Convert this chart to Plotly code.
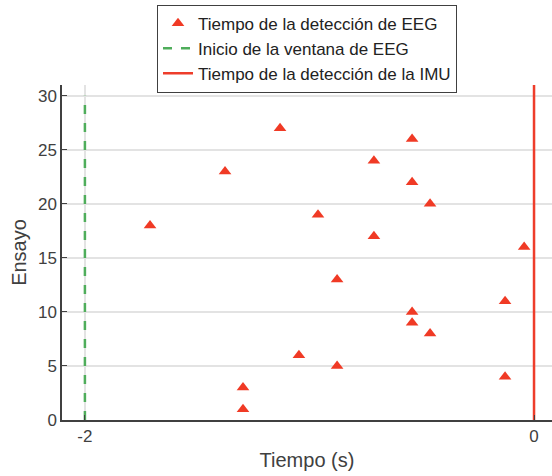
import plotly.graph_objects as go

# Data
tiempo_eeg = [-1.71, -1.376, -1.131, -0.962, -0.713, -0.713, -0.877, -0.543, -0.543, -0.463,
              -0.044, -0.129, -0.543, -0.543, -0.463, -1.047, -0.877, -0.129, -1.296, -1.296]
ensayo = [18, 23, 27, 19, 24, 17, 13, 26, 22, 20,
          16, 11, 10, 9, 8, 6, 5, 4, 3, 1]
inicio_ventana = -2
inicio_y = [0, 30]
deteccion_imu = 0
imu_y = [0, 31]
x_ticks = [-2, 0]
y_ticks = [0, 5, 10, 15, 20, 25, 30]

FONT = "Liberation Sans, Arial, sans-serif"
TXT = "#404040"

fig = go.Figure()
fig.add_trace(go.Scatter(
    x=tiempo_eeg, y=ensayo, mode="markers",
    marker=dict(symbol="triangle-up", size=11, color="#f03a25"),
    name="Tiempo de la detección de EEG"))
fig.add_trace(go.Scatter(
    x=[inicio_ventana] * len(inicio_y), y=inicio_y, mode="lines",
    line=dict(color="#4fad5b", width=2.5, dash="dash"),
    name="Inicio de la ventana de EEG"))
fig.add_trace(go.Scatter(
    x=[deteccion_imu] * len(imu_y), y=imu_y, mode="lines",
    line=dict(color="#ee3d2b", width=2.5),
    name="Tiempo de la detección de la IMU"))

fig.update_layout(
    width=552, height=476,
    margin=dict(l=62, r=0, t=85, b=56),
    paper_bgcolor="white", plot_bgcolor="white",
    font=dict(family=FONT, size=17, color=TXT),
    legend=dict(x=0.5, xanchor="center", y=1.24, yanchor="top",
                bordercolor="#404040", borderwidth=1, bgcolor="white",
                font=dict(size=17, color="#222222"), tracegroupgap=0,
                itemwidth=30),
    xaxis=dict(range=[-2.102, 0.08], tickvals=x_ticks, ticktext=["-2", "0"],
               showgrid=True, gridcolor="#e3e3e3", gridwidth=1.5, zeroline=False,
               showline=True, linecolor="#404040", linewidth=1.5,
               ticks="inside", ticklen=5, tickcolor="#404040",
               title=dict(text="Tiempo (s)", font=dict(size=20, color=TXT), standoff=8)),
    yaxis=dict(range=[0, 31], tickvals=y_ticks,
               showgrid=True, gridcolor="#e3e3e3", gridwidth=1.5, zeroline=False,
               showline=True, linecolor="#404040", linewidth=1.5,
               ticks="inside", ticklen=5, tickcolor="#404040",
               title=dict(text="Ensayo", font=dict(size=20, color=TXT), standoff=6)),
)

fig.write_html("out.html")
